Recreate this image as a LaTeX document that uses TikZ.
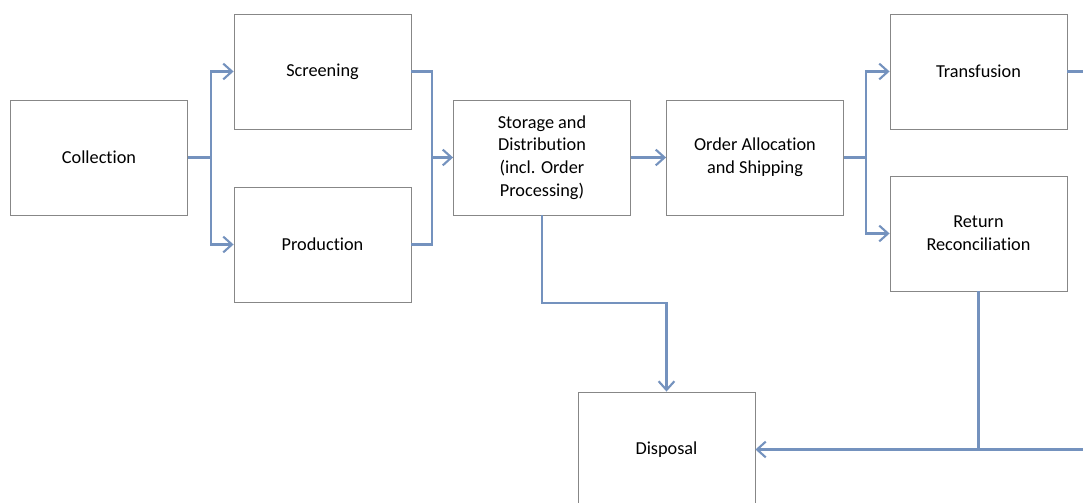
\documentclass[tikz,border=0pt]{standalone}
\usepackage{fontspec}
\setmainfont{Carlito}[Ligatures=NoCommon]
\usepackage{tikz}
\usetikzlibrary{arrows.meta,positioning}
\definecolor{flowblue}{RGB}{116,146,190}
\definecolor{boxgray}{RGB}{135,135,135}
\tikzstyle{stage} = [draw=boxgray, line width=0.5pt, fill=white, minimum width=3.54cm, minimum height=2.3cm, align=center, inner sep=2pt, font=\fontsize{10.4}{13}\selectfont]
\tikzstyle{link} = [line width=1.4pt, color=flowblue]
\tikzstyle{arrow} = [link, -{Straight Barb[length=5pt,width=9pt,line width=1.2pt]}]

\begin{document}
\begin{tikzpicture}[x=0.02cm, y=-0.02cm]
\useasboundingbox (0,0) rectangle (1083,503);
\begin{scope}
\clip (0,0) rectangle (1083,503);
% Process stages
\node[stage] (coll) at (99,157.5) {Collection};
\node[stage] (scr) at (322.5,71.5) {Screening};
\node[stage] (prod) at (322.5,244.5) {Production};
\node[stage] (stor) at (542,157.5) {Storage and\\Distribution\\(incl. Order\\Processing)};
\node[stage] (order) at (755,157.5) {Order Allocation\\and Shipping};
\node[stage] (trans) at (978.5,71.5) {Transfusion};
\node[stage] (ret) at (978.5,233.5) {Return\\Reconciliation};
\node[stage] (disp) at (666.5,449.5) {Disposal};
% Split after collection
\draw[link] (coll.east) -- (211,157.5) coordinate (split1);
\draw[arrow] (split1) |- (scr.west);
\draw[arrow] (split1) |- (prod.west);
% Merge into storage
\coordinate (merge1) at (432,157.5);
\draw[link] (scr.east) -| (merge1);
\draw[link] (prod.east) -| (merge1);
\draw[arrow] (merge1) -- (stor.west);
\draw[arrow] (stor.east) -- (order.west);
% Split after shipping
\draw[link] (order.east) -- (866,157.5) coordinate (split2);
\draw[arrow] (split2) |- (trans.west);
\draw[arrow] (split2) |- (ret.west);
\coordinate (transout) at (1083,71.5);
\draw[link] (trans.east) -- (transout);
% Paths to disposal
\coordinate (bend) at (542,303);
\draw[arrow] (stor.south) -- (bend) -| (disp.north);
\coordinate (retin) at (1083,449.5);
\draw[link] (retin) -- (ret.south |- disp.east);
\draw[arrow] (ret.south) |- (disp.east);
\end{scope}
\end{tikzpicture}
\end{document}
